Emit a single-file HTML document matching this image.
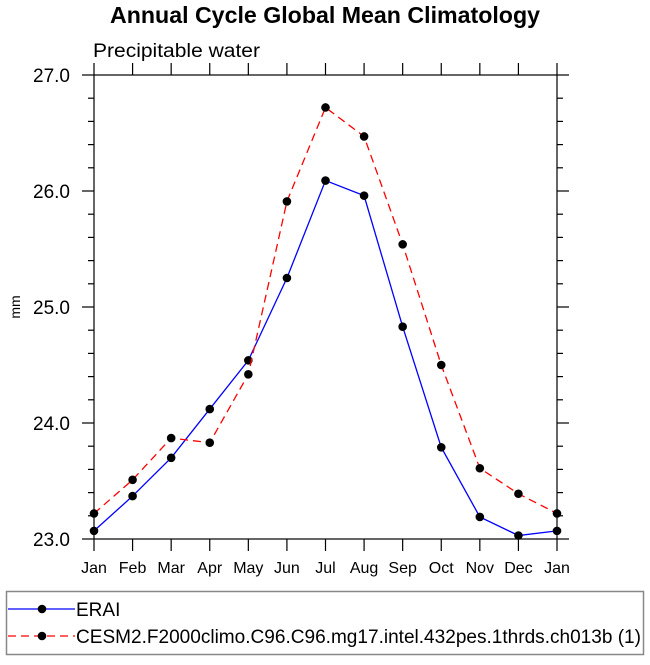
<!DOCTYPE html>
<html><head><meta charset="utf-8"><style>
body{margin:0;background:#fff;}
svg text{font-family:"Liberation Sans",Helvetica,Arial,sans-serif;}
</style></head><body>
<svg width="650" height="660" viewBox="0 0 650 660">
<text x="325" y="23" text-anchor="middle" font-size="23" font-weight="bold" textLength="430" lengthAdjust="spacingAndGlyphs">Annual Cycle Global Mean Climatology</text>
<text x="93" y="57" font-size="19" textLength="167" lengthAdjust="spacingAndGlyphs">Precipitable water</text>
<text x="20" y="307" font-size="14" transform="rotate(-90 20 307)" text-anchor="middle">mm</text>
<g id="axes"></g>
<g id="series"></g>
<rect x="6.5" y="591.5" width="637" height="63" fill="none" stroke="#888" stroke-width="1.5"/>
<g>
<line x1="8" y1="609" x2="75" y2="609" stroke="#00f" stroke-width="1.3"/>
<circle cx="42" cy="609" r="4.3" fill="#000"/>
<text x="76" y="616" font-size="19">ERAI</text>
</g>
<g>
<line x1="8" y1="636" x2="75" y2="636" stroke="#f00" stroke-width="1.3" stroke-dasharray="8,5"/>
<circle cx="42" cy="636" r="4.3" fill="#000"/>
<text x="76" y="643" font-size="19" textLength="565" lengthAdjust="spacingAndGlyphs">CESM2.F2000climo.C96.C96.mg17.intel.432pes.1thrds.ch013b (1)</text>
</g>
</svg>
<script>
const months=["Jan","Feb","Mar","Apr","May","Jun","Jul","Aug","Sep","Oct","Nov","Dec","Jan"];
const erai=[23.07,23.37,23.70,24.12,24.54,25.25,26.09,25.96,24.83,23.79,23.19,23.03,23.07];
const cesm=[23.22,23.51,23.87,23.83,24.42,25.91,26.72,26.47,25.54,24.50,23.61,23.39,23.22];
const yTicks=["23.0","24.0","25.0","26.0","27.0"];
const X0=94,X1=557,Y0=539,Y1=75,YMIN=23,YMAX=27;
const xs=i=>X0+(X1-X0)*i/(months.length-1);
const ys=v=>Y0-(v-YMIN)/(YMAX-YMIN)*(Y0-Y1);
const NS="http://www.w3.org/2000/svg";
function mk(t,a,p){const e=document.createElementNS(NS,t);for(const k in a)e.setAttribute(k,a[k]);p.appendChild(e);return e;}
const ax=document.getElementById('axes');
const frame=mk('rect',{x:X0,y:Y1,width:X1-X0,height:Y0-Y1,fill:'none',stroke:'#000','stroke-width':1.2},ax);


months.forEach((m,i)=>{
 const x=xs(i);
 mk('line',{x1:x,y1:Y0,x2:x,y2:Y0+12,stroke:'#000','stroke-width':1.2},ax);
 mk('line',{x1:x,y1:Y1,x2:x,y2:Y1-12,stroke:'#000','stroke-width':1.2},ax);
 const t=mk('text',{x:x,y:Y0+34,'text-anchor':'middle','font-size':16},ax);
 t.textContent=m;
 
 
});
for(let v=YMIN;v<=YMAX+1e-6;v+=0.2){
 const y=ys(v);const major=Math.abs(v-Math.round(v))<1e-6;const L=major?12:6;
 mk('line',{x1:X0,y1:y,x2:X0-L,y2:y,stroke:'#000','stroke-width':1.2},ax);
 mk('line',{x1:X1,y1:y,x2:X1+L,y2:y,stroke:'#000','stroke-width':1.2},ax);
}
yTicks.forEach(s=>{
 const t=mk('text',{x:X0-24,y:ys(parseFloat(s))+7,'text-anchor':'end','font-size':19},ax);
 t.textContent=s;
 
 
});
const sg=document.getElementById('series');
function series(vals,color,dash,name){
 const g=mk('g',{},sg);
 
 
 const a={points:vals.map((v,i)=>xs(i)+','+ys(v)).join(' '),fill:'none',stroke:color,'stroke-width':1.3};
 if(dash)a['stroke-dasharray']=dash;
 mk('polyline',a,g);
 vals.forEach((v,i)=>{const c=mk('circle',{cx:xs(i),cy:ys(v),r:4.3,fill:'#000'},g);
  
  });
}
series(erai,'#00f',null,'series-erai');
series(cesm,'#f00','8,5','series-cesm');
</script>
</body></html>
